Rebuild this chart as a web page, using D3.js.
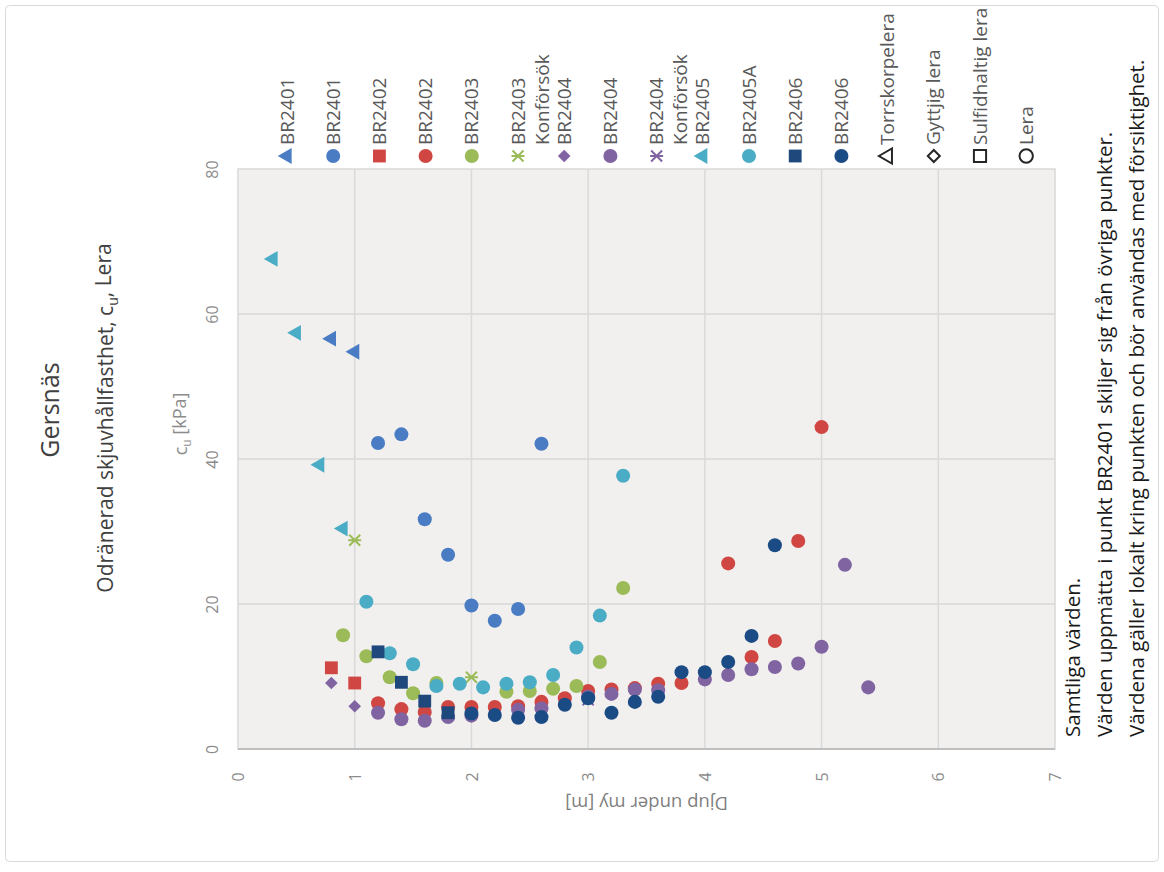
<!DOCTYPE html>
<html>
<head>
  <meta charset="UTF-8">
  <style>
    body { margin: 0; background: #ffffff; }
    svg { display: block; font-family: 'Open Sans', 'Noto Sans', sans-serif; }
  </style>
</head>
<body>
<svg width="1164" height="872"></svg>

<script src="https://d3js.org/d3.v7.min.js"></script>
<script>
// ---- data: [depth m, cu kPa] per series
const br2401Tri  = [[0.8, 56.6], [1.0, 54.8]];
const br2401Circ = [[1.2, 42.2], [1.4, 43.4], [1.6, 31.7], [1.8, 26.8], [2.0, 19.8], [2.2, 17.7], [2.4, 19.3], [2.6, 42.1]];
const br2402Sq   = [[0.8, 11.2], [1.0, 9.1]];
const br2402Circ = [[1.2, 6.3], [1.4, 5.5], [1.6, 5.1], [1.8, 5.8], [2.0, 5.8], [2.2, 5.8], [2.4, 5.9], [2.6, 6.5], [2.8, 7.0],
                    [3.0, 8.0], [3.2, 8.2], [3.4, 8.4], [3.6, 9.0], [3.8, 9.1], [4.2, 25.6], [4.4, 12.7], [4.6, 14.9], [4.8, 28.7], [5.0, 44.4]];
const br2403Circ = [[0.9, 15.7], [1.1, 12.8], [1.3, 9.9], [1.5, 7.7], [1.7, 9.1], [2.3, 7.9], [2.5, 8.0], [2.7, 8.3], [2.9, 8.7], [3.1, 12.0], [3.3, 22.2]];
const br2403Kon  = [[1.0, 28.8], [2.0, 9.9]];
const br2404Dia  = [[0.8, 9.1], [1.0, 5.9]];
const br2404Circ = [[1.2, 5.0], [1.4, 4.1], [1.6, 3.9], [1.8, 4.4], [2.0, 4.6], [2.4, 5.4], [2.6, 5.6], [3.0, 7.2], [3.2, 7.6], [3.4, 8.2],
                    [3.6, 8.1], [4.0, 9.6], [4.2, 10.2], [4.4, 11.0], [4.6, 11.3], [4.8, 11.8], [5.0, 14.1], [5.2, 25.4], [5.4, 8.5]];
const br2404Kon  = [[3.0, 6.8]];
const br2405Tri  = [[0.3, 67.6], [0.5, 57.4], [0.7, 39.2], [0.9, 30.4]];
const br2405A    = [[1.1, 20.3], [1.3, 13.2], [1.5, 11.7], [1.7, 8.7], [1.9, 9.0], [2.1, 8.5], [2.3, 9.0], [2.5, 9.2], [2.7, 10.2], [2.9, 14.0], [3.1, 18.4], [3.3, 37.7]];
const br2406Sq   = [[1.2, 13.4], [1.4, 9.2], [1.6, 6.6], [1.8, 5.0]];
const br2406Circ = [[2.0, 4.9], [2.2, 4.7], [2.4, 4.3], [2.6, 4.4], [2.8, 6.1], [3.0, 7.0], [3.2, 5.0], [3.4, 6.5], [3.6, 7.2],
                    [3.8, 10.6], [4.0, 10.6], [4.2, 12.0], [4.4, 15.6], [4.6, 28.1]];

const seriesNames  = ["BR2401", "BR2401", "BR2402", "BR2402", "BR2403", "BR2403\nKonförsök", "BR2404", "BR2404", "BR2404\nKonförsök",
                      "BR2405", "BR2405A", "BR2406", "BR2406"];
const seriesData   = [br2401Tri, br2401Circ, br2402Sq, br2402Circ, br2403Circ, br2403Kon, br2404Dia, br2404Circ, br2404Kon,
                      br2405Tri, br2405A, br2406Sq, br2406Circ];
const seriesShapes = ["tri", "circle", "square", "circle", "circle", "star", "diamond", "circle", "star", "tri", "circle", "square", "circle"];
const seriesColors = ["#4a7cc4", "#4a7cc4", "#cf4642", "#cf4642", "#9bbb59", "#9bbb59", "#8064a2", "#8064a2", "#8064a2",
                      "#4bacc6", "#4bacc6", "#1f497d", "#1b4b85"];

const soilNames  = ["Torrskorpelera", "Gyttjig lera", "Sulfidhaltig lera", "Lera"];
const soilShapes = ["tri", "diamond", "square", "circle"];

const depthTicks = [0, 1, 2, 3, 4, 5, 6, 7];
const cuTicks = [0, 20, 40, 60, 80];

const notes = ["Samtliga värden.",
               "Värden uppmätta i punkt BR2401 skiljer sig från övriga punkter.",
               "Värdena gäller lokalt kring punkten och bör användas med försiktighet."];

// ---- layout (chart is drawn turned a quarter turn)
const svg = d3.select("svg");
const x = d3.scaleLinear().domain([0, 7]).range([238, 1055]);
const y = d3.scaleLinear().domain([0, 80]).range([749, 169]);

svg.append("rect")
  .attr("x", 5.5).attr("y", 5.5).attr("width", 1153).attr("height", 856).attr("rx", 4)
  .attr("fill", "#fff").attr("stroke", "#d9d9d9");

// plot area
svg.append("rect")
  .attr("x", x(0)).attr("y", y(80)).attr("width", x(7) - x(0)).attr("height", y(0) - y(80))
  .attr("fill", "#f2f0ee").attr("stroke", "#d9d9d9").attr("stroke-width", 1.5);

svg.append("g").selectAll("line").data(depthTicks.slice(1, -1)).join("line")
  .attr("x1", d => x(d)).attr("x2", d => x(d)).attr("y1", y(80)).attr("y2", y(0))
  .attr("stroke", "#d9d9d9").attr("stroke-width", 1.5);
svg.append("g").selectAll("line").data(cuTicks.slice(1, -1)).join("line")
  .attr("x1", x(0)).attr("x2", x(7)).attr("y1", d => y(d)).attr("y2", d => y(d))
  .attr("stroke", "#d9d9d9").attr("stroke-width", 1.5);
svg.append("line")
  .attr("x1", x(0)).attr("x2", x(7)).attr("y1", y(0)).attr("y2", y(0))
  .attr("stroke", "#bfbfbf").attr("stroke-width", 2);

// axes
svg.append("g").attr("transform", `translate(0,${y(0)})`)
  .call(d3.axisBottom(x).tickValues(depthTicks).tickSize(0).tickFormat(d3.format("d")))
  .call(g => g.select(".domain").remove())
  .selectAll("text")
  .attr("y", 0).attr("dy", "0.35em").attr("text-anchor", "middle")
  .attr("transform", "translate(0,28) rotate(-90)")
  .attr("fill", "#8c8c8c").style("font-size", "16px").style("font-family", "'Open Sans'");

svg.append("g").attr("transform", `translate(${x(0)},0)`)
  .call(d3.axisLeft(y).tickValues(cuTicks).tickSize(0))
  .call(g => g.select(".domain").remove())
  .selectAll("text")
  .attr("x", 0).attr("dy", "0.35em").attr("text-anchor", "middle")
  .attr("transform", "translate(-26,0) rotate(-90)")
  .attr("fill", "#8c8c8c").style("font-size", "16px").style("font-family", "'Open Sans'");

// titles
svg.append("text").attr("transform", "translate(50,410) rotate(-90)")
  .attr("text-anchor", "middle").attr("dy", "0.35em")
  .attr("fill", "#404040").style("font-size", "25px").text("Gersnäs");

const sub = svg.append("text").attr("transform", "translate(106,418) rotate(-90)")
  .attr("text-anchor", "middle").attr("dy", "0.35em")
  .attr("fill", "#404040").style("font-size", "21px");
sub.append("tspan").text("Odränerad skjuvhållfasthet, c");
sub.append("tspan").attr("dy", "0.3em").style("font-size", "14px").text("u");
sub.append("tspan").attr("dy", "-0.3em").text(", Lera");

const cuLab = svg.append("text").attr("transform", `translate(181,${(y(0) + y(80)) / 2 - 35}) rotate(-90)`)
  .attr("text-anchor", "middle").attr("dy", "0.35em")
  .attr("fill", "#8c8c8c").style("font-size", "18px");
cuLab.append("tspan").text("c");
cuLab.append("tspan").attr("dy", "0.3em").style("font-size", "12px").text("u");
cuLab.append("tspan").attr("dy", "-0.3em").text(" [kPa]");

svg.append("text").attr("transform", `translate(${(x(0) + x(7)) / 2},803) rotate(180)`)
  .attr("text-anchor", "middle").attr("dy", "0.35em")
  .attr("fill", "#7f7f7f").style("font-size", "18.5px").text("Djup under my [m]");

// notes
svg.append("g").selectAll("text").data(notes).join("text")
  .attr("transform", (d, i) => `translate(${1073 + i * 32},737) rotate(-90)`)
  .attr("dy", "0.35em").attr("fill", "#1a1a1a").style("font-size", "20.5px")
  .text(d => d);

// markers
function markerPath(shape, big) {
  const k = big ? 1 : 0.9;
  if (shape === "circle") return d3.symbol(d3.symbolCircle, 155 * k)();
  if (shape === "square") return d3.symbol(d3.symbolSquare, 165 * k)();
  if (shape === "diamond") return d3.symbol(d3.symbolSquare, 80 * k)();
  if (shape === "tri") return d3.symbol(d3.symbolTriangle, 110 * k)();
  const r = 5.5;
  return `M${-r},${-r}L${r},${r}M${-r},${r}L${r},${-r}M${-r - 1},0L${r + 1},0`;
}
function markerRot(shape) {
  if (shape === "tri") return " rotate(-90)";
  if (shape === "diamond") return " rotate(45)";
  return "";
}

const plot = svg.append("g");
seriesData.forEach((data, i) => {
  const shape = seriesShapes[i], col = seriesColors[i];
  plot.append("g").selectAll("path").data(data).join("path")
    .attr("d", markerPath(shape, true))
    .attr("transform", d => `translate(${x(d[0])},${y(d[1])})${markerRot(shape)}`)
    .attr("fill", shape === "star" ? "none" : col)
    .attr("stroke", shape === "star" ? col : "none")
    .attr("stroke-width", 2);
});

// legend
const legStep = 46.2, legX0 = 287, legMarkY = 156, legTextY = 145;
const legend = svg.append("g");
const legItems = seriesNames.map((n, i) => ({ name: n, shape: seriesShapes[i], color: seriesColors[i], open: false }))
  .concat(soilNames.map((n, i) => ({ name: n, shape: soilShapes[i], color: "#262626", open: true })));

legItems.forEach((it, i) => {
  const lx = legX0 + i * legStep;
  const star = it.shape === "star";
  legend.append("path")
    .attr("d", markerPath(it.shape, !it.open))
    .attr("transform", `translate(${lx},${legMarkY})${markerRot(it.shape)}`)
    .attr("fill", it.open || star ? "none" : it.color)
    .attr("stroke", it.open || star ? it.color : "none")
    .attr("stroke-width", 2);
  const lines = it.name.split("\n");
  lines.forEach((ln, j) => {
    legend.append("text")
      .attr("transform", `translate(${lx + j * 24},${legTextY}) rotate(-90)`)
      .attr("dy", "0.35em").attr("fill", "#595959").style("font-size", "19px")
      .text(ln);
  });
});
</script>
</body>
</html>
